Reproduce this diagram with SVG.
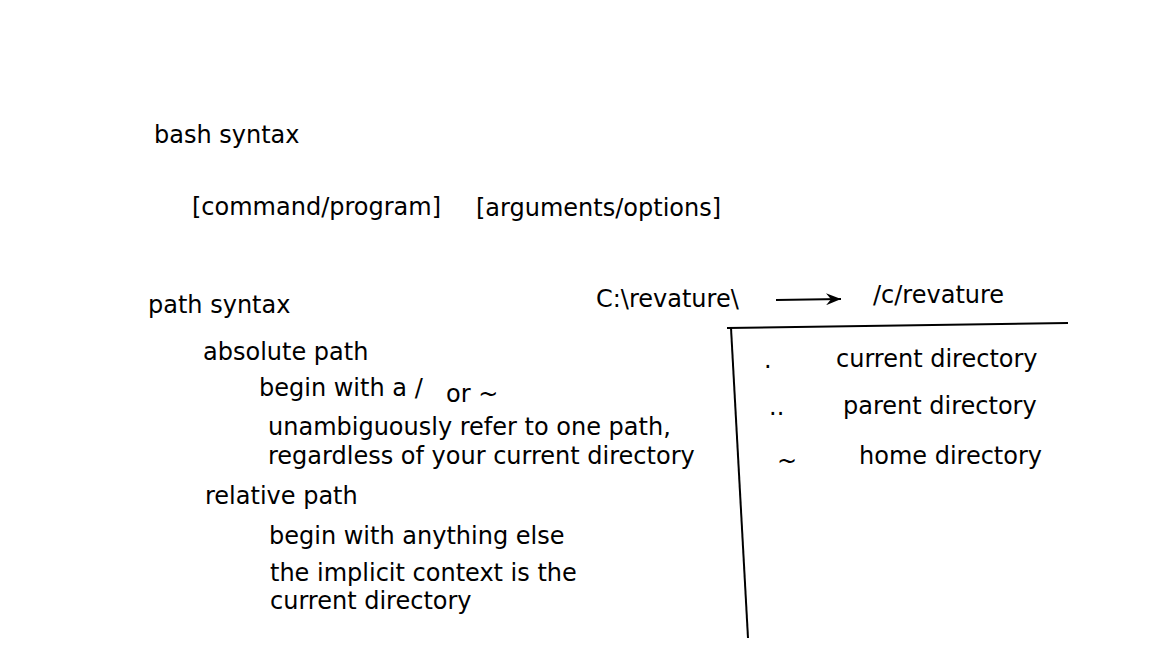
<svg xmlns="http://www.w3.org/2000/svg" width="1168" height="657" viewBox="0 0 1168 657">
<defs>
<style>
text{font-family:"DejaVu Sans","Verdana",sans-serif;font-size:24px;fill:#000}
.ln{stroke:#000;stroke-width:2;fill:none}
</style>
<marker id="ah" markerWidth="16" markerHeight="12" refX="15" refY="6" orient="auto" markerUnits="userSpaceOnUse">
<path d="M0,0 L15,6 L0,12 L5,6 Z" fill="#000"/>
</marker>
</defs>
<rect width="1168" height="657" fill="#fff"/>
<g id="bash">
<text x="154" y="143">bash syntax</text>
<text x="192" y="215">[command/program]</text>
<text x="476" y="216">[arguments/options]</text>
</g>
<g id="path">
<text x="148" y="313">path syntax</text>
<text x="203" y="360">absolute path</text>
<text x="259" y="396">begin with a /</text>
<text x="446" y="402">or ~</text>
<text x="268" y="435">unambiguously refer to one path,</text>
<text x="268" y="464">regardless of your current directory</text>
<text x="205" y="504">relative path</text>
<text x="269" y="544">begin with anything else</text>
<text x="270" y="581">the implicit context is the</text>
<text x="270" y="609">current directory</text>
</g>
<g id="conv">
<text x="596" y="307">C:\revature\</text>
<text x="873" y="303">/c/revature</text>
</g>
<g id="table">
<text x="764" y="368">.</text>
<text x="769" y="415">..</text>
<text x="836" y="367">current directory</text>
<text x="843" y="414">parent directory</text>
<text x="777" y="469">~</text>
<text x="859" y="464">home directory</text>
</g>
<g id="connectors">
<line class="ln" x1="776" y1="300" x2="841" y2="299" marker-end="url(#ah)"/>
<line class="ln" x1="727" y1="328" x2="1068" y2="323"/>
<line class="ln" x1="731" y1="328" x2="748" y2="638"/>
</g>
</svg>
